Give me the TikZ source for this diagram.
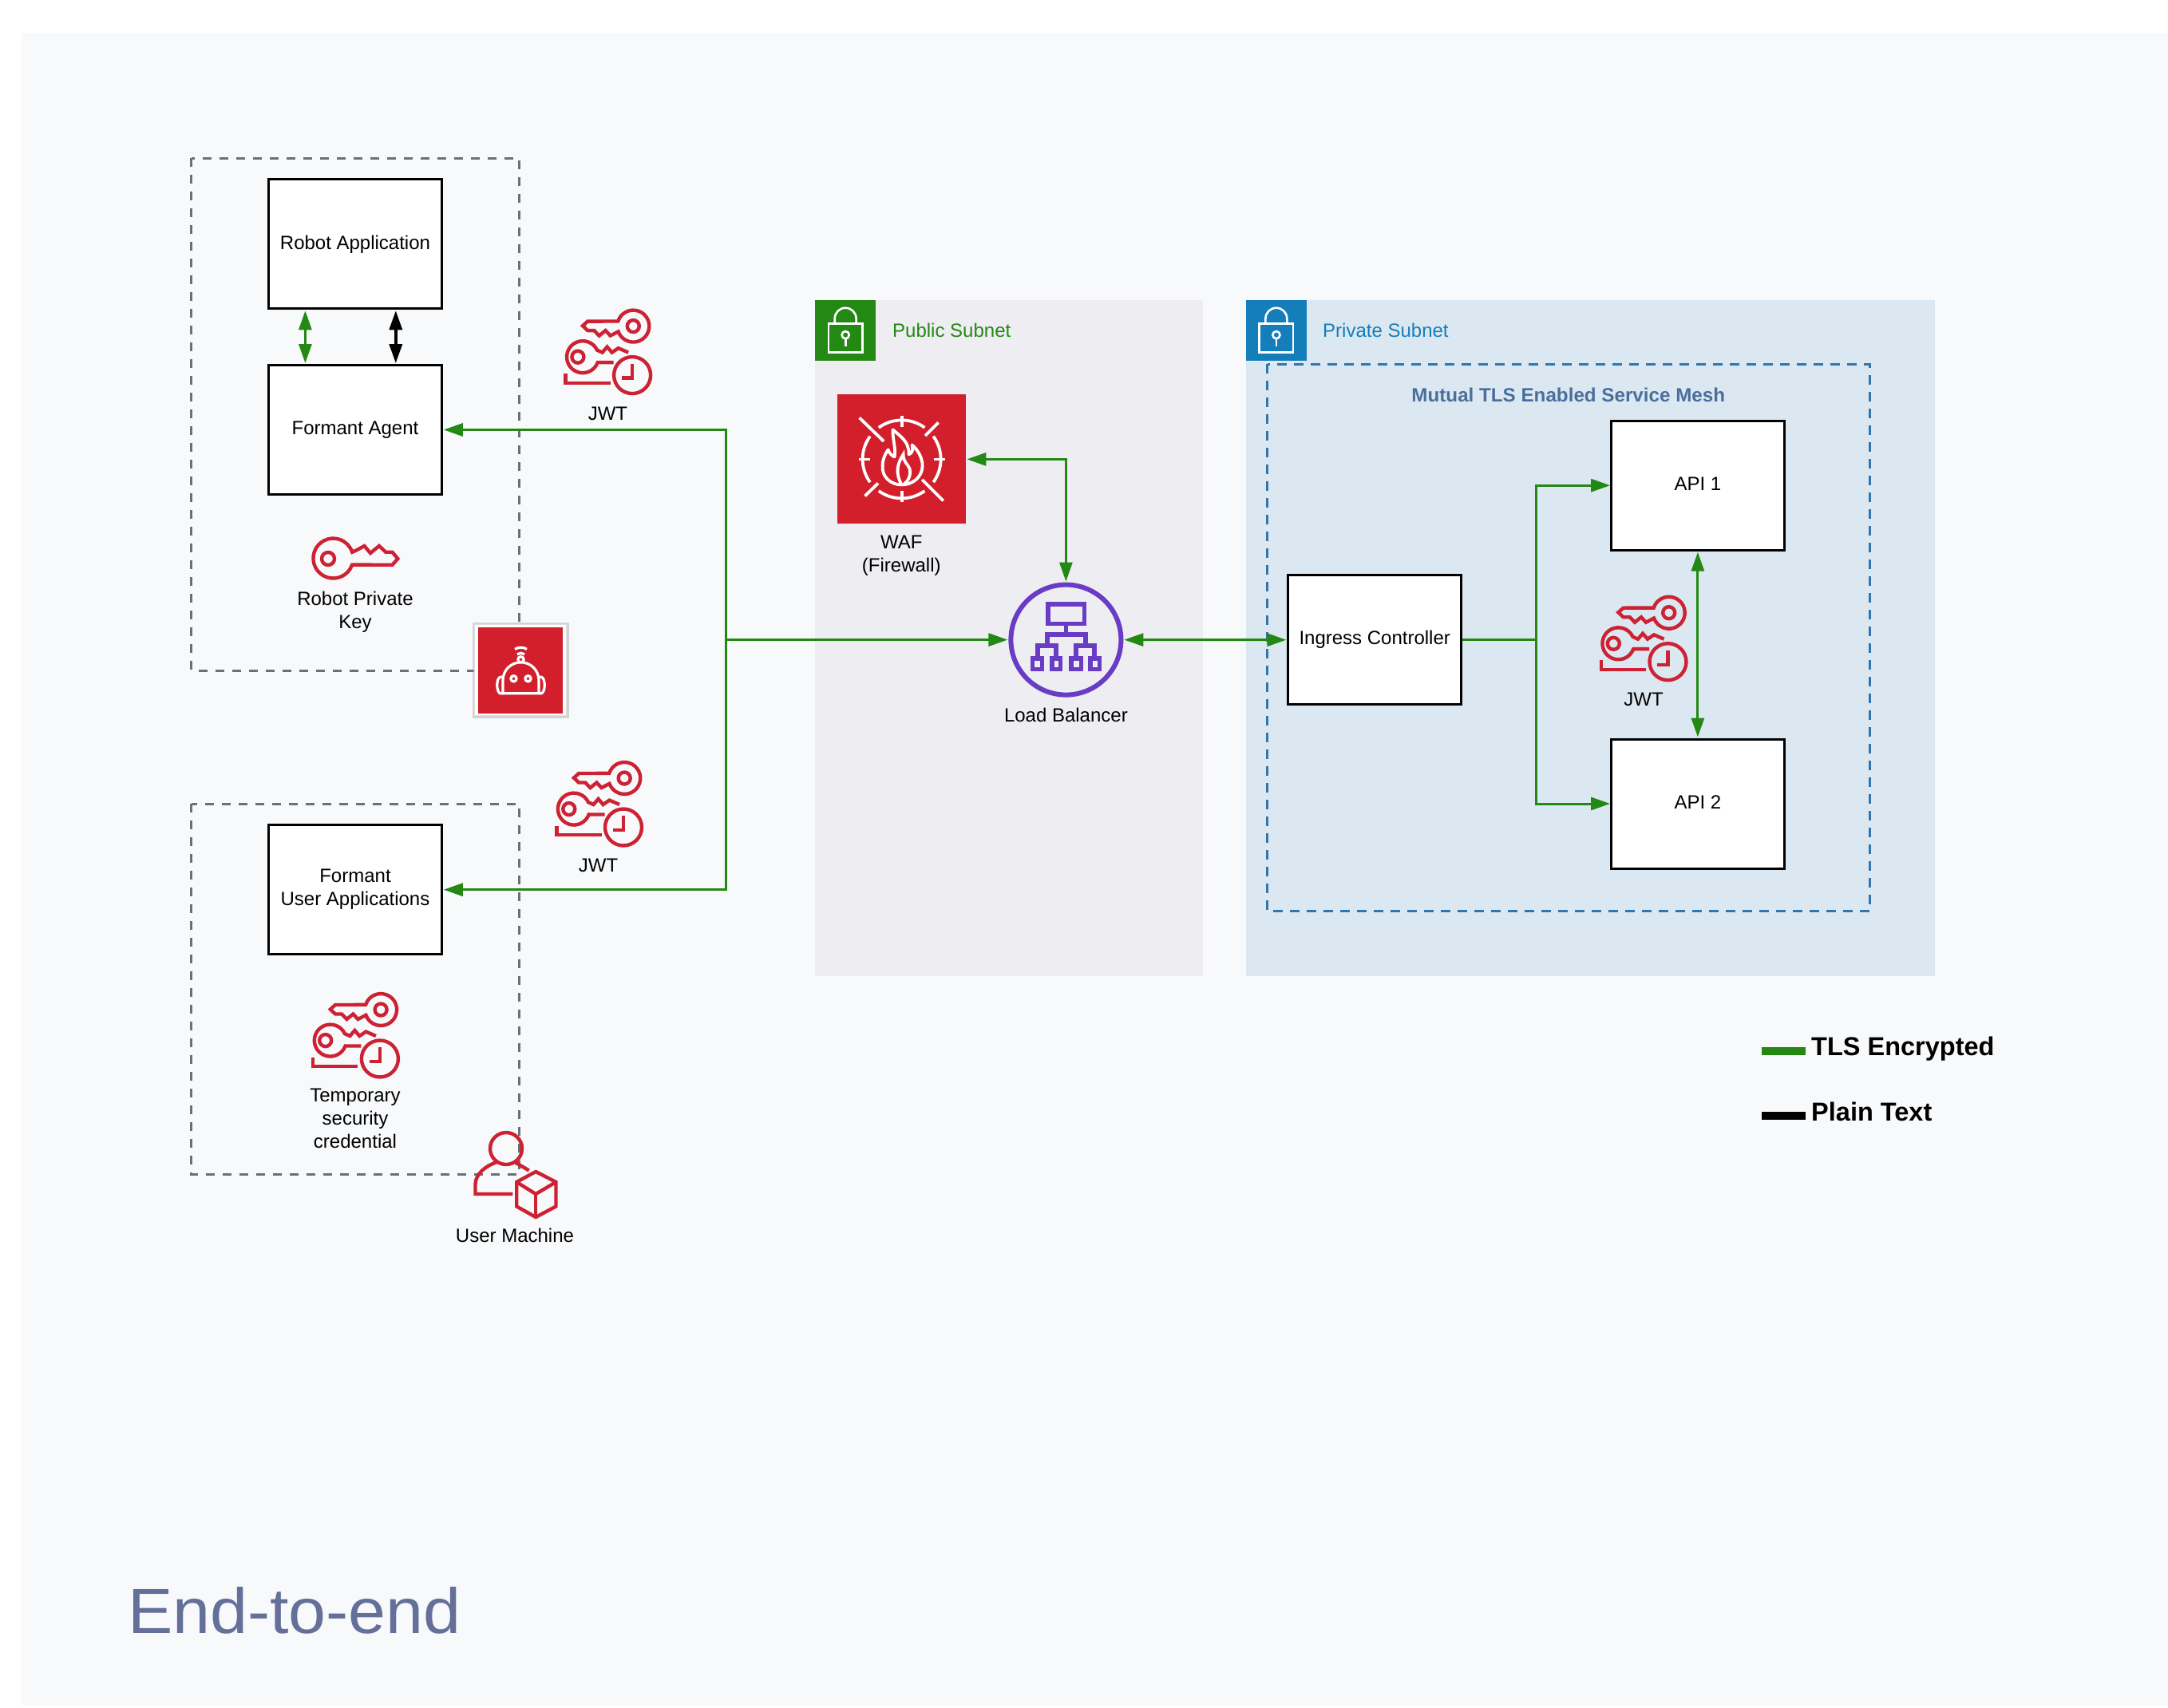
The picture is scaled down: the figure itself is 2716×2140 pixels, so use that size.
\documentclass[tikz,border=0pt]{standalone}
\usepackage{fontspec}
\setmainfont{Liberation Sans}
\newfontfamily\titlefont[FakeStretch=1.055]{Liberation Sans}
\usetikzlibrary{arrows.meta}
\definecolor{pagebg}{HTML}{F8F9FB}
\definecolor{pubbg}{HTML}{EEEDF1}
\definecolor{privbg}{HTML}{DCE8F1}
\definecolor{awsgreen}{HTML}{248814}
\definecolor{awsblue}{HTML}{147EBA}
\definecolor{iconred}{HTML}{CC2233}
\definecolor{fillred}{HTML}{D21F2B}
\definecolor{lbpurple}{HTML}{693CC5}
\definecolor{dashgray}{HTML}{687078}
\definecolor{dashblue}{HTML}{2F75B0}
\definecolor{meshtext}{HTML}{4A6F9C}
\definecolor{titletext}{HTML}{647099}
\tikzset{
  lbl/.style={align=center,inner sep=0pt,text=black,font=\fontsize{24}{29}\selectfont},
  svc/.style={draw=black,fill=white,line width=3pt,minimum width=216.5pt,minimum height=162pt,inner sep=0pt,align=center,font=\fontsize{24}{29}\selectfont},
  grp/.style={draw=dashgray,line width=3pt,dash pattern=on 11pt off 10pt},
  meshgrp/.style={draw=dashblue,line width=2.8pt,dash pattern=on 12pt off 9pt},
  conn/.style={draw=awsgreen,line width=3pt,-{Triangle[length=24pt,width=16pt]},shorten >=1pt},
  conn2/.style={draw=awsgreen,line width=3pt,{Triangle[length=24pt,width=16pt]}-{Triangle[length=24pt,width=16pt]},shorten >=1pt,shorten <=1pt},
  plainconn/.style={draw=black,line width=3.5pt,{Triangle[length=24pt,width=16pt]}-{Triangle[length=24pt,width=16pt]},shorten >=1pt,shorten <=1pt},
  icn/.style={draw=iconred,line width=4.4pt,line join=miter},
  wicn/.style={draw=white,line width=3.8pt},
  thinw/.style={draw=white,line width=2.6pt},
  roboline/.style={draw=white,line width=3.2pt},
  lbp/.style={draw=lbpurple,line width=5.5pt},
}
\newcommand{\keyicon}[2]{\begin{scope}[shift={(#1,#2)}]
    \draw[icn] (49.7,35.6) arc[start angle=18.8,end angle=342,radius=25] -- (56,17) -- (65,12) -- (72.6,21) -- (83.6,12) -- (91.8,19.7) -- (100,19.7) -- (107,28) -- (100,35.8) -- cycle;
    \draw[icn] (19.6,28) circle[radius=8];
\end{scope}}
\newcommand{\jwticon}[2]{\begin{scope}[shift={(#1,#2)}]
    \draw[icn] (66.7,15.9) arc[start angle=197.8,end angle=520,radius=20] -- (57,34) -- (51,27.5) -- (43,34) -- (36.7,27.5) -- (28.6,27.5) -- (22.4,21.6) -- (28.6,16) -- cycle;
    \draw[icn] (85.7,22) circle[radius=7.5];
    \draw[icn] (61,67.5) -- (41.2,67.44) arc[start angle=20,end angle=335,radius=20] -- (47,55) -- (53,48) -- (59,55) -- (67,49.6) -- (79.5,55);
    \draw[icn] (16.3,60.6) circle[radius=7.5];
    \draw[icn] (0.8,81.7) -- (0.8,93.2) -- (57,93.2);
    \draw[icn] (84.5,83.5) circle[radius=23];
    \draw[icn] (84.5,69) -- (84.5,87) -- (71.4,87);
\end{scope}}
\newcommand{\lockicon}[2]{\begin{scope}[shift={(#1,#2)}]
    \draw[thinw] (17,30) rectangle (59.4,65.7);
    \draw[thinw] (24.7,30) -- (24.7,23.5) arc[start angle=180,end angle=360,radius=13.45] -- (51.6,30);
    \draw[thinw] (38.2,44) circle[radius=4.6];
    \draw[thinw] (38.2,48.6) -- (38.2,58);
\end{scope}}
\newcommand{\fireicon}[2]{\begin{scope}[shift={(#1,#2)}]
    \foreach \a/\b in {234/306,324/396,54/126,144/216}{
      \draw[wicn] ({49*cos(\a)},{49*sin(\a)}) arc[start angle=\a,end angle=\b,radius=49];
    }
    \foreach \a in {0,90,180,270}{
      \draw[wicn] ({40*cos(\a)},{40*sin(\a)}) -- ({54*cos(\a)},{54*sin(\a)});
    }
    \draw[wicn] (-53,-52) -- (-22.5,-22.5);
    \draw[wicn] (25.5,25.5) -- (52,52);
    \draw[wicn] (29.5,-29.5) -- (46,-46);
    \draw[wicn] (-46,46) -- (-29.5,30);
    \draw[wicn,line join=round] (0,32) .. controls (-14,32) and (-25,22) .. (-24,8) .. controls (-24,0) and (-20,-8) .. (-17,-12) .. controls (-16,-8) and (-12,-4) .. (-9,-3) .. controls (-7,-14) and (-12,-28) .. (-11,-37) .. controls (-3,-30) and (6,-24) .. (8,-14) .. controls (9,-12) and (9,-8) .. (9,-6) .. controls (14,-8) and (14,-12) .. (13,-18) .. controls (20,-12) and (26,-2) .. (26,8) .. controls (26,22) and (14,32) .. (0,32) -- cycle;
    \draw[wicn] (0,32) .. controls (-8,18) and (-6,6) .. (2,-6) .. controls (2,4) and (8,6) .. (10,12) .. controls (12,20) and (8,28) .. (2,32);
\end{scope}}
\newcommand{\lbicon}[2]{\begin{scope}[shift={(#1,#2)}]
    \draw[lbp] (-22.65,-44.85) rectangle (22.85,-20.35);
    \draw[lbp] (0,-20.35) -- (0,-6.6);
    \draw[lbp] (-35.4,23.15) -- (-35.4,7.4) -- (-23.4,7.4) -- (-23.4,-6.6) -- (24.6,-6.6) -- (24.6,7.4) -- (35.6,7.4) -- (35.6,23.15);
    \draw[lbp] (-12.4,23.15) -- (-12.4,7.4) -- (-23.4,7.4);
    \draw[lbp] (12.6,23.15) -- (12.6,7.4) -- (24.6,7.4);
    \draw[lbp] (-42.15,23.15) rectangle (-30.15,36.65);
    \draw[lbp] (-17.65,23.15) rectangle (-7.15,36.65);
    \draw[lbp] (6.35,23.15) rectangle (18.85,36.65);
    \draw[lbp] (30.35,23.15) rectangle (41.85,36.65);
\end{scope}}
\newcommand{\roboticon}[2]{\begin{scope}[shift={(#1,#2)}]
    \draw[roboline] (-22.5,42.5) -- (-22.5,26) arc[start angle=180,end angle=360,radius=22.5] -- (22.5,42.5) -- cycle;
    \draw[roboline] (-22.5,22) -- (-26,22) .. controls (-31,24) and (-31,40) .. (-26,42.5) -- (-22.5,42.5);
    \draw[roboline] (22.5,22) -- (26,22) .. controls (31,24) and (31,40) .. (26,42.5) -- (22.5,42.5);
    \draw[roboline] (0,0) circle[radius=3.6];
    \draw[roboline] (-9,24) circle[radius=3.6];
    \draw[roboline] (9,24) circle[radius=3.6];
    \draw[roboline] ({8*cos(235)},{8*sin(235)}) arc[start angle=235,end angle=305,radius=8];
    \draw[roboline] ({15*cos(240)},{15*sin(240)}) arc[start angle=240,end angle=300,radius=15];
\end{scope}}
\newcommand{\usericon}[2]{\begin{scope}[shift={(#1,#2)}]
    \draw[icn] (39.5,20) circle[radius=20];
    \draw[icn] (29.5,36.5) .. controls (12,42) and (1,53) .. (1,65) -- (1,77) -- (47.8,77);
    \draw[icn] (49.5,36.5) -- (68.2,47.5);
    \draw[icn] (76.7,49) -- (102,62) -- (102,92.5) -- (76.7,106) -- (52.7,92.5) -- (52.7,62) -- cycle;
    \draw[icn] (52.7,62) -- (76.7,77) -- (102,62);
    \draw[icn] (76.7,77) -- (76.7,106);
\end{scope}}
\begin{document}
\begin{tikzpicture}[x=1pt,y=1pt,yscale=-1]
\useasboundingbox (0,0) rectangle (2716,2140);
\fill[white] (0,0) rectangle (2716,2140);
\fill[pagebg] (27,42) rectangle (2716,2136);

% subnets
\node[fill=pubbg,minimum width=486pt,minimum height=847pt,inner sep=0pt,anchor=north west] (pub) at (1021,375.7) {};
\node[fill=privbg,minimum width=863.3pt,minimum height=847pt,inner sep=0pt,anchor=north west] (priv) at (1560.7,375.7) {};
\node[fill=awsgreen,minimum size=76pt,inner sep=0pt,anchor=north west] (pubtag) at (1021,375.7) {};
\node[fill=awsblue,minimum size=76pt,inner sep=0pt,anchor=north west] (privtag) at (1560.7,375.7) {};
\lockicon{1021}{375.7}
\lockicon{1560.7}{375.7}
\node[lbl,anchor=west,text=awsgreen] (publbl) at (1118,414) {Public Subnet};
\node[lbl,anchor=west,text=awsblue] (privlbl) at (1657,414) {Private Subnet};

% dashed groups
\draw[grp] (239.6,198.4) rectangle (650.4,840);
\draw[grp] (239.6,1007) rectangle (650.4,1471.5);
\draw[meshgrp] (1587.6,456.4) rectangle (2342.5,1141.8);
\node[lbl,text=meshtext,font=\bfseries\fontsize{24.2}{29}\selectfont] (meshlbl) at (1964.8,495) {Mutual TLS Enabled Service Mesh};

% service boxes
\node[svc] (app) at (445,305.8) {\raisebox{1pt}{Robot Application}};
\node[svc] (agent) at (445,538.5) {Formant Agent};
\node[svc] (uapps) at (445,1114.7) {Formant\\User Applications};
\node[svc] (ing) at (1722.2,801.7) {Ingress Controller};
\node[svc] (api1) at (2126.9,608.2) {\raisebox{3pt}{API 1}};
\node[svc] (api2) at (2126.9,1007) {\raisebox{3pt}{API 2}};

% WAF and LB
\node[fill=fillred,minimum width=161pt,minimum height=162pt,inner sep=0pt] (waf) at (1129.6,575.4) {};
\fireicon{1129.6}{575.4}
\node[circle,draw=lbpurple,line width=6pt,minimum size=138pt,inner sep=0pt] (lb) at (1335.4,801.6) {};
\lbicon{1335.4}{801.6}

% connectors
\coordinate (trunk) at (909,801.6);
\coordinate (split) at (1924,801.7);
\draw[conn] (trunk) |- (agent.east);
\draw[conn] (trunk) |- (uapps.east);
\draw[conn] (trunk) -- (lb.west);
\draw[conn2] (waf.east) -| (lb.north);
\draw[conn2] (lb.east) -- (ing.west);
\draw[conn,shorten >=0pt] (ing.east) -- (split) |- (api1.west);
\draw[conn,shorten >=0pt] (split) |- (api2.west);
\draw[conn2] (api1.south) -- (api2.north);
\draw[conn2] ([xshift=-62.6pt]app.south) -- ([xshift=-62.6pt]agent.north);
\draw[plainconn] ([xshift=50.8pt]app.south) -- ([xshift=50.8pt]agent.north);

% key icons
\jwticon{707.6}{386.6}
\jwticon{696.5}{953}
\jwticon{2005}{745.7}
\jwticon{391.4}{1243}
\keyicon{391.4}{672}

% robot tile
\node[fill=black!35,fill opacity=.45,minimum width=121pt,minimum height=120pt,inner sep=0pt] (robotshadow) at (652.6,840) {};
\node[fill=white,draw=black!12,line width=1pt,minimum width=115pt,minimum height=114pt,inner sep=0pt] (robottile) at (652,839) {};
\node[fill=fillred,minimum width=106pt,minimum height=107.7pt,inner sep=0pt] (robotfill) at (652.4,839.8) {};
\roboticon{652.5}{826.3}
\usericon{594.5}{1419}

% labels
\node[lbl] (jwt1) at (761.4,518) {JWT};
\node[lbl] (jwt2) at (749.6,1084) {JWT};
\node[lbl] (jwt3) at (2059,876.6) {JWT};
\node[lbl] (rpk) at (445,766.5) {Robot Private\\Key};
\node[lbl] (tsc) at (445,1401.5) {Temporary\\security\\credential};
\node[lbl] (um) at (645,1548) {User Machine};
\node[lbl] (waflbl) at (1129.3,696) {WAF\\(Firewall)};
\node[lbl] (lblbl) at (1335.4,895.6) {Load Balancer};

% legend
\fill[awsgreen] (2207.3,1312) rectangle (2261.7,1322);
\fill[black] (2207.3,1392.7) rectangle (2261.7,1403);
\node[lbl,anchor=west,font=\bfseries\fontsize{32.5}{38}\selectfont] (tls) at (2269,1314) {TLS Encrypted};
\node[lbl,anchor=west,font=\bfseries\fontsize{32.5}{38}\selectfont] (plain) at (2269,1393) {Plain Text};

% title
\node[anchor=base west,inner sep=0pt,text=titletext,font=\titlefont\fontsize{80}{96}\selectfont] (title) at (160,2046) {End-to-end};
\end{tikzpicture}
\end{document}
